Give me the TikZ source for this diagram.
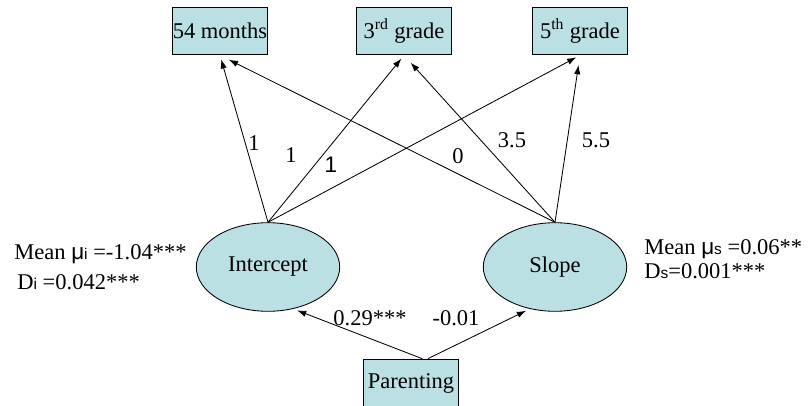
\documentclass[tikz,border=0pt]{standalone}
\usepackage{fontspec}
\setmainfont{Liberation Serif}
\newfontfamily\arialfont{Liberation Sans}
\usetikzlibrary{shapes,arrows,arrows.meta}
\definecolor{boxblue}{RGB}{187,224,227}
\tikzstyle{obs} = [rectangle, draw, fill=boxblue,
    minimum width=68pt, minimum height=34pt, inner sep=0pt]
\tikzstyle{latent} = [ellipse, draw, fill=boxblue,
    minimum width=102pt, minimum height=63pt, inner sep=0pt]
\tikzstyle{line} = [draw, -{Latex[length=6.5pt,width=4.5pt]}]
\tikzstyle{est} = [inner sep=0pt]
\newcommand{\smi}[1]{{\arialfont\fontsize{11}{11}\selectfont #1}}

\begin{document}
\begin{tikzpicture}[x=0.025cm, y=-0.025cm, font=\fontsize{16}{19}\selectfont, line width=0.6pt]
    \useasboundingbox (0,0) rectangle (809,406);
    % Place nodes
    \node [obs] (m54) at (220,31) {54 months};
    \node [obs] (g3) at (404,31) {3\textsuperscript{rd} grade};
    \node [obs] (g5) at (580,31) {5\textsuperscript{th} grade};
    \node [latent] (int) at (268,267) {Intercept};
    \node [latent] (slope) at (555,267) {Slope};
    \node [obs] (par) at (411,383) {Parenting};

    \node [est, anchor=base west] (meani) at (14,260) {Mean {\arialfont μ}\smi{i} =-1.04***};
    \node [est, anchor=base west] (vari) at (17,290) {D\smi{i} =0.042***};
    \node [est, anchor=base west] (means) at (644,255) {Mean {\arialfont μ}\smi{s} =0.06**};
    \node [est, anchor=base west] (vars) at (644,279) {D\smi{s}=0.001***};

    % Paths
    \path [line, shorten >=3pt] (int.north) -- (m54.south);
    \path [line, shorten >=3pt] (int.north) -- (g3.south);
    \path [line, shorten >=3pt] (int.north) -- (g5.south);
    \path [line, shorten >=7pt] (slope.north) -- (m54.south);
    \path [line, shorten >=7pt] (slope.north) -- (g3.south);
    \path [line, shorten >=7pt] (slope.north) -- (g5.south);
    \path [line, shorten >=3pt] ([xshift=8pt]par.north) -- (int.-59);
    \path [line, shorten >=3pt] ([xshift=12pt]par.north) -- (slope.-121);

    % Loadings
    \node [est] (l54) at (254,143) {1};
    \node [est] (l3) at (291,155) {1};
    \node [est, font=\arialfont\fontsize{16}{19}\selectfont] (l5) at (331,165) {1};
    \node [est] (s54) at (458,156) {0};
    \node [est] (s3) at (512,140) {3.5};
    \node [est] (s5) at (596,140) {5.5};
    \node [est] (pi) at (370,318) {0.29***};
    \node [est] (ps) at (456,318) {-0.01};
\end{tikzpicture}
\end{document}
